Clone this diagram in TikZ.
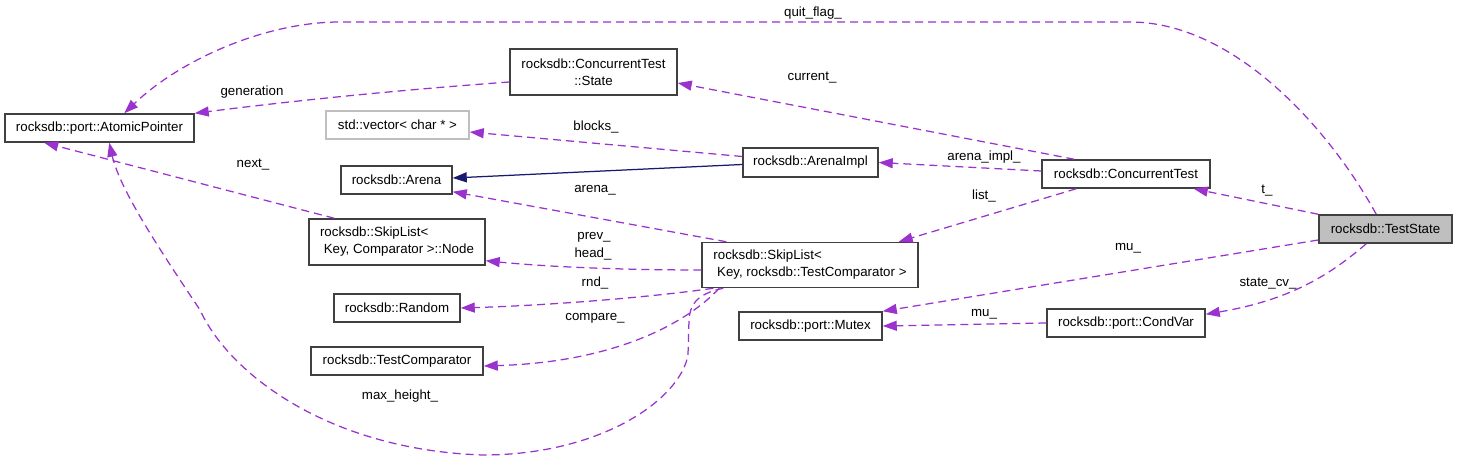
\documentclass[tikz,border=0pt]{standalone}
\usepackage{fontspec}
\setmainfont{Liberation Sans}
\usetikzlibrary{arrows.meta,calc}
\definecolor{edgep}{RGB}{154,50,205}
\definecolor{inhnavy}{RGB}{25,25,112}
\definecolor{boxline}{RGB}{64,64,64}
\definecolor{lightline}{RGB}{191,191,191}
\definecolor{selfill}{RGB}{191,191,191}
\begin{document}
\begin{tikzpicture}[x=1pt,y=-1pt,
  every node/.style={font=\fontsize{13.3}{17}\selectfont},
  box/.style={draw=boxline, line width=1.5pt, fill=white, inner sep=0pt, minimum height=28pt, align=center},
  rel/.style={draw=edgep, line width=1.25pt, dash pattern=on 8pt off 5pt, -{Triangle[length=14pt,width=10pt,fill=edgep]}},
  inh/.style={draw=inhnavy, line width=1.25pt, -{Triangle[length=14pt,width=10pt,fill=inhnavy]}},
  lbl/.style={inner sep=0pt}
]
\useasboundingbox (0,0) rectangle (1459,462);

% nodes
\node[box, minimum width=189pt] (ap) at (99.5,128) {rocksdb::port::AtomicPointer};
\node[box, minimum width=167pt, minimum height=46pt] (st) at (593.5,72) {rocksdb::ConcurrentTest\\::State};
\node[box, draw=lightline, minimum width=143pt] (vec) at (397.5,125) {std::vector< char * >};
\node[box, minimum width=111pt] (ar) at (396.5,180) {rocksdb::Arena};
\node[box, minimum width=135pt, minimum height=29pt] (ai) at (810.5,162.5) {rocksdb::ArenaImpl};
\node[box, minimum width=168pt] (ct) at (1126,174) {rocksdb::ConcurrentTest};
\node[box, fill=selfill, minimum width=133pt] (ts) at (1385.5,229) {rocksdb::TestState};
\node[box, minimum width=176pt, minimum height=46pt, align=left] (nd) at (397,242) {rocksdb::SkipList<\\\hspace*{3.7pt}Key, Comparator >::Node};
\node[box, minimum width=216pt, minimum height=45pt, align=left] (sl) at (810,265) {rocksdb::SkipList<\\\hspace*{3.7pt}Key, rocksdb::TestComparator >};
\node[box, minimum width=126pt] (rn) at (397,308) {rocksdb::Random};
\node[box, minimum width=172pt] (tc) at (397,361) {rocksdb::TestComparator};
\node[box, minimum width=143pt] (mx) at (810.5,326) {rocksdb::port::Mutex};
\node[box, minimum width=158pt] (cv) at (1126,323) {rocksdb::port::CondVar};

% inheritance
\draw[inh] ([yshift=-2pt]ai.west) -- ([yshift=2pt]ar.east);

% relations
\draw[rel] ([xshift=58pt]ts.north west) .. controls (1330,130) and (1235,22) .. (1130,22)
  -- (340,22) .. controls (265,22) and (180,60) .. ([xshift=120pt]ap.north west);
\node[lbl] (lquit) at (813,13) {quit\_flag\_};

\draw[rel] ([yshift=-10pt]st.west) .. controls (400,90) and (300,100) .. (ap.north east);
\node[lbl] (lgen) at (252,92) {generation};

\draw[rel] ([xshift=33pt]ct.north west) -- ([yshift=-11pt]st.east);
\node[lbl] (lcur) at (812,78) {current\_};

\draw[rel] ([yshift=6pt]ai.west) -- ([yshift=-7pt]vec.east);
\node[lbl] (lblk) at (596,127) {blocks\_};

\draw[rel] ([yshift=3pt]ct.west) -- (ai.east);
\node[lbl] (laim) at (984,157) {arena\_impl\_};

\draw[rel] ([xshift=26pt]nd.north west) -- ([xshift=40pt]ap.south west);
\node[lbl] (lnext) at (253,165) {next\_};

\draw[rel] ([xshift=25pt]sl.north west) -- ([yshift=3pt]ar.south east);
\node[lbl] (larena) at (595,190) {arena\_};

\draw[rel] ([xshift=35pt]ct.south west) -- ([xshift=-20pt]sl.north east);
\node[lbl] (llist) at (984,196) {list\_};

\draw[rel] (ts.north west) -- ([xshift=-17pt]ct.south east);
\node[lbl] (lt) at (1267,191) {t\_};

\draw[rel] ([yshift=-5pt]sl.west) .. controls (640,270) and (560,268) .. ([yshift=5pt]nd.south east);
\node[lbl] (lprev) at (594,237) {prev\_};
\node[lbl] (lhead) at (593,254) {head\_};

\draw[rel] ([yshift=-11pt]ts.west) -- (mx.north east);
\node[lbl] (lmu1) at (1128,248) {mu\_};

\draw[rel] ([xshift=48pt]ts.south west) .. controls (1330,275) and (1290,300) .. ([yshift=-6pt]cv.north east);
\node[lbl] (lscv) at (1268,284) {state\_cv\_};

\draw[rel] (cv.west) -- (mx.east);
\node[lbl] (lmu2) at (984,314) {mu\_};

\draw[rel] ([xshift=12pt]sl.south west) .. controls (660,296) and (560,305) .. (rn.east);
\node[lbl] (lrnd) at (595,283) {rnd\_};

\draw[rel] ([xshift=18pt]sl.south west) .. controls (690,320) and (620,362) .. ([yshift=-5pt]tc.east);
\node[lbl] (lcmp) at (595,318) {compare\_};

\draw[rel] ([xshift=22pt]sl.south west) .. controls (696,294) and (690,305) .. (689,320)
  -- (688,355) .. controls (680,400) and (600,455) .. (483,455)
  .. controls (330,450) and (230,375) .. (200,310)
  .. controls (160,250) and (120,190) .. ([xshift=105pt]ap.south west);
\node[lbl] (lmax) at (400,396) {max\_height\_};
\end{tikzpicture}
\end{document}
